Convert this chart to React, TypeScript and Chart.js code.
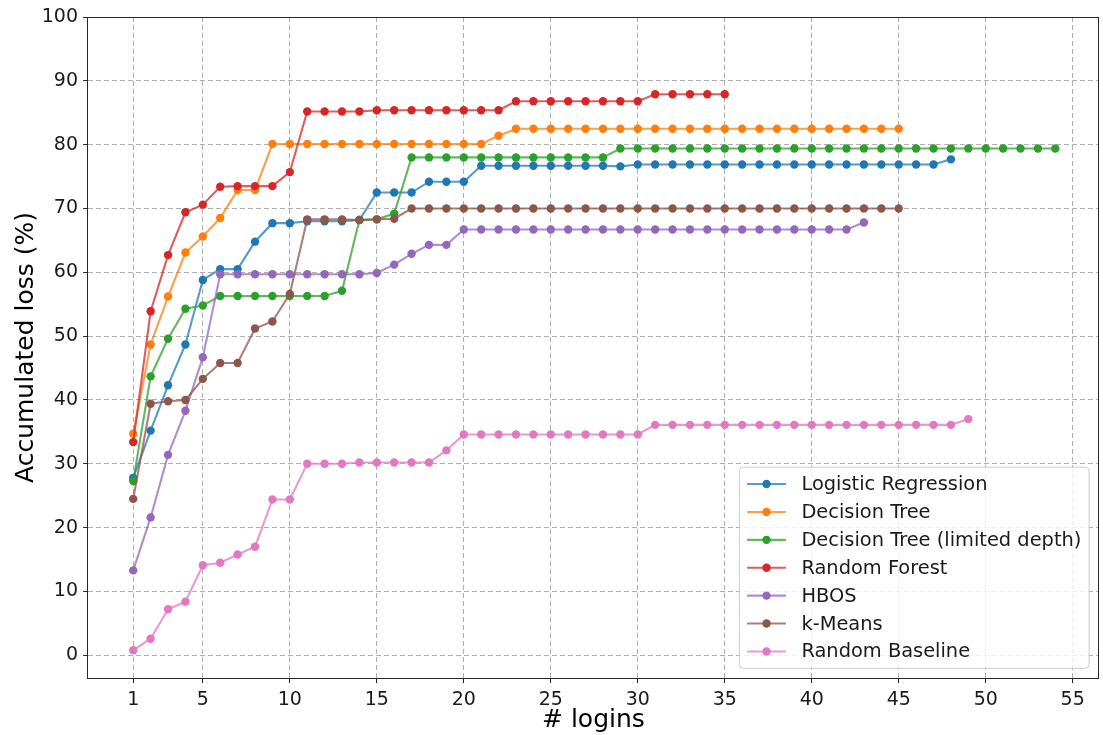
import React, { useEffect, useRef } from "react";
import { Chart, registerables } from "chart.js";

Chart.register(...registerables);

// ---------- data ----------
const seriesNames = [
  "Logistic Regression",
  "Decision Tree",
  "Decision Tree (limited depth)",
  "Random Forest",
  "HBOS",
  "k-Means",
  "Random Baseline",
];

const seriesColors = ["#1f77b4", "#ff7f0e", "#2ca02c", "#d62728", "#9467bd", "#8c564b", "#e377c2"];

// accumulated loss (%) for logins 1, 2, 3, ...
const logisticRegression = [
  27.8, 35.2, 42.3, 48.7, 58.8, 60.5, 60.5, 64.8, 67.7, 67.7,
  68.0, 68.0, 68.0, 68.2, 72.5, 72.5, 72.5, 74.2, 74.2, 74.2,
  76.7, 76.7, 76.7, 76.7, 76.7, 76.7, 76.7, 76.7, 76.6, 76.9,
  76.9, 76.9, 76.9, 76.9, 76.9, 76.9, 76.9, 76.9, 76.9, 76.9,
  76.9, 76.9, 76.9, 76.9, 76.9, 76.9, 76.9, 77.7,
];

const decisionTree = [
  34.7, 48.7, 56.2, 63.1, 65.6, 68.5, 72.9, 72.9, 80.1, 80.1,
  80.1, 80.1, 80.1, 80.1, 80.1, 80.1, 80.1, 80.1, 80.1, 80.1,
  80.1, 81.4, 82.5, 82.5, 82.5, 82.5, 82.5, 82.5, 82.5, 82.5,
  82.5, 82.5, 82.5, 82.5, 82.5, 82.5, 82.5, 82.5, 82.5, 82.5,
  82.5, 82.5, 82.5, 82.5, 82.5,
];

const decisionTreeLimited = [
  27.3, 43.7, 49.6, 54.3, 54.8, 56.3, 56.3, 56.3, 56.3, 56.3,
  56.3, 56.3, 57.1, 68.2, 68.3, 69.2, 78.0, 78.0, 78.0, 78.0,
  78.0, 78.0, 78.0, 78.0, 78.0, 78.0, 78.0, 78.0, 79.4, 79.4,
  79.4, 79.4, 79.4, 79.4, 79.4, 79.4, 79.4, 79.4, 79.4, 79.4,
  79.4, 79.4, 79.4, 79.4, 79.4, 79.4, 79.4, 79.4, 79.4, 79.4,
  79.4, 79.4, 79.4, 79.4,
];

const randomForest = [
  33.4, 53.9, 62.7, 69.4, 70.6, 73.4, 73.5, 73.5, 73.5, 75.7,
  85.2, 85.2, 85.2, 85.2, 85.4, 85.4, 85.4, 85.4, 85.4, 85.4,
  85.4, 85.4, 86.8, 86.8, 86.8, 86.8, 86.8, 86.8, 86.8, 86.8,
  87.9, 87.9, 87.9, 87.9, 87.9,
];

const hbos = [
  13.3, 21.6, 31.4, 38.3, 46.7, 59.7, 59.7, 59.7, 59.7, 59.7,
  59.7, 59.7, 59.7, 59.7, 59.9, 61.2, 62.9, 64.3, 64.3, 66.7,
  66.7, 66.7, 66.7, 66.7, 66.7, 66.7, 66.7, 66.7, 66.7, 66.7,
  66.7, 66.7, 66.7, 66.7, 66.7, 66.7, 66.7, 66.7, 66.7, 66.7,
  66.7, 66.7, 67.8,
];

const kMeans = [
  24.5, 39.4, 39.8, 40.0, 43.3, 45.8, 45.8, 51.2, 52.3, 56.6,
  68.3, 68.3, 68.3, 68.2, 68.3, 68.4, 70.0, 70.0, 70.0, 70.0,
  70.0, 70.0, 70.0, 70.0, 70.0, 70.0, 70.0, 70.0, 70.0, 70.0,
  70.0, 70.0, 70.0, 70.0, 70.0, 70.0, 70.0, 70.0, 70.0, 70.0,
  70.0, 70.0, 70.0, 70.0, 70.0,
];

const randomBaseline = [
  0.8, 2.6, 7.2, 8.4, 14.1, 14.5, 15.8, 17.0, 24.4, 24.4,
  30.0, 30.0, 30.0, 30.2, 30.2, 30.2, 30.2, 30.2, 32.1, 34.6,
  34.6, 34.6, 34.6, 34.6, 34.6, 34.6, 34.6, 34.6, 34.6, 34.6,
  36.1, 36.1, 36.1, 36.1, 36.1, 36.1, 36.1, 36.1, 36.1, 36.1,
  36.1, 36.1, 36.1, 36.1, 36.1, 36.1, 36.1, 36.1, 37.0,
];

const allSeries = [
  logisticRegression,
  decisionTree,
  decisionTreeLimited,
  randomForest,
  hbos,
  kMeans,
  randomBaseline,
];

const xTicks = [1, 5, 10, 15, 20, 25, 30, 35, 40, 45, 50, 55];
const yTicks = [0, 10, 20, 30, 40, 50, 60, 70, 80, 90, 100];

const xTitle = "# logins";
const yTitle = "Accumulated loss (%)";

// ---------- styling ----------
const FONT = "'DejaVu Sans', sans-serif";
const LINE_ALPHA = 0.75;
const LEGEND_FS = 19.4;

function withAlpha(hex: string, a: number) {
  const n = parseInt(hex.slice(1), 16);
  return `rgba(${(n >> 16) & 255}, ${(n >> 8) & 255}, ${n & 255}, ${a})`;
}

const framePlugin = {
  id: "frame",
  afterDatasetsDraw(chart: any) {
    const { ctx, chartArea: a } = chart;
    ctx.save();
    ctx.strokeStyle = "#262626";
    ctx.lineWidth = 1;
    const l = Math.round(a.left) - 0.5;
    const t = Math.round(a.top) + 0.5;
    const r = Math.round(a.right) - 0.5;
    const b = Math.round(a.bottom) + 0.5;
    ctx.strokeRect(l, t, r - l, b - t);
    ctx.restore();
  },
};

const legendPlugin = {
  id: "boxLegend",
  afterDraw(chart: any) {
    const { ctx, chartArea: a } = chart;
    const fs = LEGEND_FS;
    const pad = 0.4 * fs;
    const handleLen = 2 * fs;
    const handlePad = 0.8 * fs;
    const spacing = 0.5 * fs;
    const rowH = 18.2;
    const n = seriesNames.length;
    ctx.save();
    ctx.font = `${fs}px ${FONT}`;
    const maxW = Math.max(...seriesNames.map((s) => ctx.measureText(s).width));
    const w = pad * 2 + handleLen + handlePad + maxW;
    const h = pad * 2 + rowH * n + spacing * (n - 1);
    const x0 = a.right - 0.5 * fs - w;
    const y0 = a.bottom - 0.5 * fs - h;
    const rad = 4;
    ctx.beginPath();
    ctx.moveTo(x0 + rad, y0);
    ctx.lineTo(x0 + w - rad, y0);
    ctx.arcTo(x0 + w, y0, x0 + w, y0 + rad, rad);
    ctx.lineTo(x0 + w, y0 + h - rad);
    ctx.arcTo(x0 + w, y0 + h, x0 + w - rad, y0 + h, rad);
    ctx.lineTo(x0 + rad, y0 + h);
    ctx.arcTo(x0, y0 + h, x0, y0 + h - rad, rad);
    ctx.lineTo(x0, y0 + rad);
    ctx.arcTo(x0, y0, x0 + rad, y0, rad);
    ctx.closePath();
    ctx.fillStyle = "rgba(255,255,255,0.8)";
    ctx.fill();
    ctx.strokeStyle = "#cccccc";
    ctx.lineWidth = 1;
    ctx.stroke();

    ctx.textBaseline = "middle";
    ctx.textAlign = "left";
    seriesNames.forEach((name, i) => {
      const cy = y0 + pad + i * (rowH + spacing) + rowH / 2;
      const hx0 = x0 + pad;
      ctx.strokeStyle = withAlpha(seriesColors[i], LINE_ALPHA);
      ctx.lineWidth = 2.1;
      ctx.beginPath();
      ctx.moveTo(hx0, cy);
      ctx.lineTo(hx0 + handleLen, cy);
      ctx.stroke();
      ctx.fillStyle = seriesColors[i];
      ctx.beginPath();
      ctx.arc(hx0 + handleLen / 2, cy, 4.2, 0, Math.PI * 2);
      ctx.fill();
      ctx.fillStyle = "#1a1a1a";
      ctx.fillText(name, hx0 + handleLen + handlePad, cy + 1);
    });
    ctx.restore();
  },
};

export default function App() {
  const ref = useRef<HTMLCanvasElement>(null);

  useEffect(() => {
    if (!ref.current) return;
    const datasets = allSeries.map((vals, i) => ({
      label: seriesNames[i],
      data: vals.map((v, k) => ({ x: k + 1, y: v })),
      borderColor: withAlpha(seriesColors[i], LINE_ALPHA),
      backgroundColor: seriesColors[i],
      pointBackgroundColor: seriesColors[i],
      pointBorderWidth: 0,
      pointRadius: 4.2,
      borderWidth: 2.1,
      tension: 0,
      fill: false,
      order: allSeries.length - 1 - i,
    }));

    const tickFont = { family: FONT, size: 19 };
    const titleFont = { family: FONT, size: 25 };

    const chart = new Chart(ref.current, {
      type: "line",
      data: { datasets },
      plugins: [framePlugin, legendPlugin],
      options: {
        responsive: false,
        animation: false,
        layout: { padding: { left: 0, right: 3, top: 17, bottom: 0 } },
        plugins: {
          legend: { display: false },
          tooltip: { enabled: false },
        },
        scales: {
          x: {
            type: "linear",
            min: -1.6,
            max: 56.5,
            afterBuildTicks: (s: any) => {
              s.ticks = xTicks.map((v) => ({ value: v }));
            },
            afterFit: (s: any) => {
              s.height = 57;
            },
            ticks: {
              font: tickFont,
              color: "#1a1a1a",
              padding: 6,
              maxRotation: 0,
              autoSkip: false,
            },
            grid: {
              color: "#b0b0b0",
              lineWidth: 1,
              tickLength: 5,
              tickColor: "#262626",
              tickWidth: 1,
              tickBorderDash: [],
            },
            border: { display: false, dash: [5, 3] },
            title: {
              display: true,
              text: xTitle,
              font: titleFont,
              color: "#000",
              padding: { top: 0, bottom: 0 },
            },
          },
          y: {
            type: "linear",
            min: -3.56,
            max: 100,
            afterBuildTicks: (s: any) => {
              s.ticks = yTicks.map((v) => ({ value: v }));
            },
            afterFit: (s: any) => {
              s.width = 88;
            },
            ticks: {
              font: tickFont,
              color: "#1a1a1a",
              padding: 5,
              autoSkip: false,
            },
            grid: {
              color: "#b0b0b0",
              lineWidth: 1,
              tickLength: 5,
              tickColor: "#262626",
              tickWidth: 1,
              tickBorderDash: [],
            },
            border: { display: false, dash: [5, 3] },
            title: {
              display: true,
              text: yTitle,
              font: titleFont,
              color: "#000",
              padding: { top: 11, bottom: 0 },
            },
          },
        },
      } as any,
    });
    return () => chart.destroy();
  }, []);

  return (
    <div style={{ position: "absolute", left: 0, top: 0, width: 1103, height: 735, background: "#fff" }}>
      <canvas ref={ref} width={1103} height={735} style={{ display: "block", width: 1103, height: 735 }} />
    </div>
  );
}
